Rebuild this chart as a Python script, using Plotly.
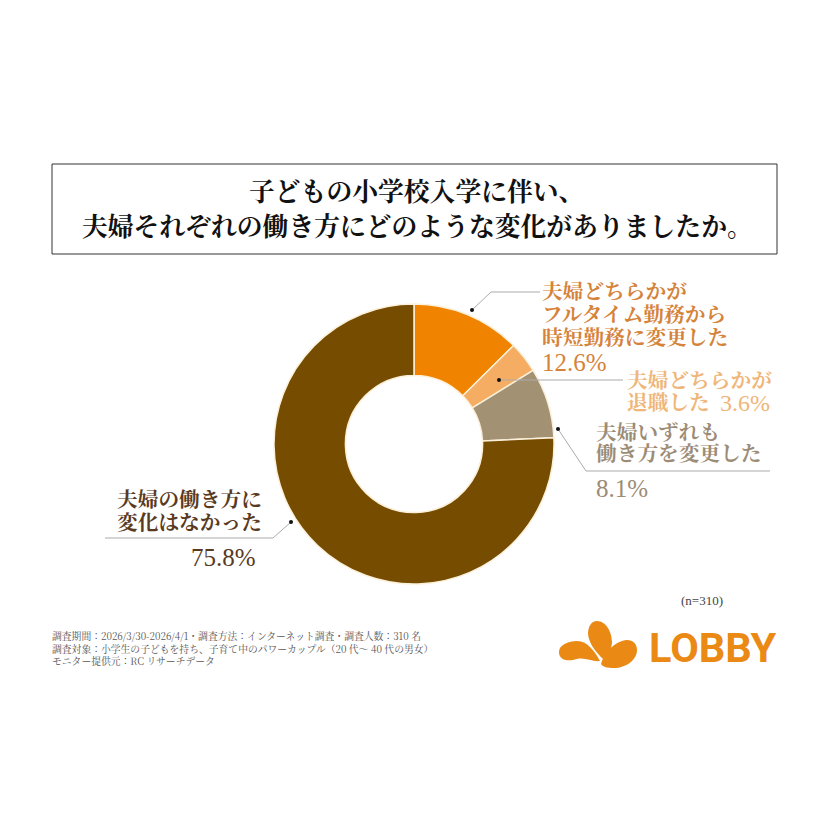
import plotly.graph_objects as go

# data
categories = ["フルタイム勤務から時短勤務に変更", "退職", "いずれも変更なし", "変化なし"]
values = [12.6, 3.6, 8.1, 75.8]
slice_colors = ["#F08300", "#F5AC63", "#A39174", "#754C00"]

title_lines = ["子どもの小学校入学に伴い、", "夫婦それぞれの働き方にどのような変化がありましたか。"]
footer_lines = [
    "調査期間：2026/3/30-2026/4/1・調査方法：インターネット調査・調査人数：310 名",
    "調査対象：小学生の子どもを持ち、子育て中のパワーカップル（20 代〜 40 代の男女）",
    "モニター提供元：RC リサーチデータ",
]

FONT = "Liberation Serif, Noto Serif CJK JP, Noto Sans CJK JP"
FOOT_FONT = "Noto Serif CJK JP, Noto Sans CJK JP"
W = 828
cx, cy, r = 414, 444, 140

fig = go.Figure()
fig.add_trace(go.Pie(
    labels=categories, values=values, hole=0.49, sort=False, direction="clockwise",
    rotation=0, textinfo="none", hoverinfo="label+percent", showlegend=False,
    marker=dict(colors=slice_colors, line=dict(color="#FBF0D9", width=1.5)),
    domain=dict(x=[(cx - r) / W, (cx + r) / W], y=[1 - (cy + r) / W, 1 - (cy - r) / W]),
))


def text(x, y, s, size, color, anchor="left", family=FONT):
    # annotations carry 2px of padding on the left
    if anchor == "left":
        x -= 2
    fig.add_annotation(x=x, y=y, text=s, xref="x", yref="y", showarrow=False, xanchor=anchor,
                       align=anchor, yanchor="middle",
                       font=dict(family=family, size=size, color=color))


# title box
fig.add_shape(type="rect", x0=52, x1=777, y0=164, y1=254, line=dict(color="#333333", width=1))
text(416, 192, f"<b>{title_lines[0]}</b>", 25.8, "#111111", "center")
text(417, 227, f"<b>{title_lines[1]}</b>", 25.8, "#111111", "center")

# labels
c1, c2, c3, c4 = "#D5833A", "#EFB67A", "#9C8C76", "#5A3A1E"
text(542, 292, "<b>夫婦どちらかが</b>", 20.7, c1)
text(542, 315, "<b>フルタイム勤務から</b>", 20.7, c1)
text(542, 338, "<b>時短勤務に変更した</b>", 20.7, c1)
text(542, 362, f"{values[0]}%", 25, c1)
text(627, 381, "<b>夫婦どちらかが</b>", 20.7, c2)
text(627, 403, "<b>退職した</b>", 20.7, c2)
text(720, 403, f"{values[1]}%", 24, c2)
text(596, 432, "<b>夫婦いずれも</b>", 20.7, c3)
text(596, 454, "<b>働き方を変更した</b>", 20.7, c3)
text(596, 488, f"{values[2]}%", 25, c3)
text(117, 500, "<b>夫婦の働き方に</b>", 20.7, c4)
text(117, 523, "<b>変化はなかった</b>", 20.7, c4)
text(191, 557, f"{values[3]}%", 25, c4)

# leader lines with dots
leaders = [
    [(472, 310), (491, 292), (540, 292)],
    [(499, 380), (623, 380)],
    [(558, 429), (586, 471), (770, 471)],
    [(291, 522), (273, 538), (105, 538)],
]
for pts in leaders:
    path = "M " + " L ".join(f"{x},{y}" for x, y in pts)
    fig.add_shape(type="path", path=path, line=dict(color="#ABABAB", width=1))
    x, y = pts[0]
    fig.add_shape(type="circle", x0=x - 2, x1=x + 2, y0=y - 2, y1=y + 2,
                  fillcolor="#111111", line=dict(width=0))

# footer
text(52, 648, "<br>".join(footer_lines), 9.8, "#555555", family=FOOT_FONT)
text(681, 600, "(n=310)", 13, "#444444")

# logo
logo = "#EA8A14"
fig.add_shape(type="path", fillcolor=logo, line=dict(width=0),
              path="M 559,652 C 559,645 568,641 577,641 C 588,641 595,652 600,661 "
                   "C 592,662 585,657 577,659 C 567,662 559,660 559,652 Z")
fig.add_shape(type="path", fillcolor=logo, line=dict(width=0),
              path="M 597,621 C 606,621 612,632 612,642 C 612,649 607,654 603,659 "
                   "C 598,654 589,645 588,634 C 588,627 591,621 597,621 Z")
fig.add_shape(type="path", fillcolor=logo, line=dict(width=0),
              path="M 637,650 C 637,660 626,668 614,668 C 607,668 603,667 601,664 "
                   "C 603,656 610,645 622,641 C 630,638 637,642 637,650 Z")
fig.add_annotation(x=712.5, y=647, text="<b>LOBBY</b>", xref="x", yref="y", showarrow=False,
                   xanchor="center", yanchor="middle",
                   font=dict(family="Liberation Sans Narrow, Roboto", size=41.5, color=logo))

fig.update_layout(
    width=828, height=828, margin=dict(l=0, r=0, t=0, b=0),
    paper_bgcolor="white", plot_bgcolor="white",
    xaxis=dict(range=[0, W], visible=False, fixedrange=True, domain=[0, 1]),
    yaxis=dict(range=[W, 0], visible=False, fixedrange=True, domain=[0, 1]),
)
# page body has a default margin, drop it so the chart sits at 0,0
fig.write_html("out.html", config={"displayModeBar": False},
               post_script="document.body.style.margin = '0';")
